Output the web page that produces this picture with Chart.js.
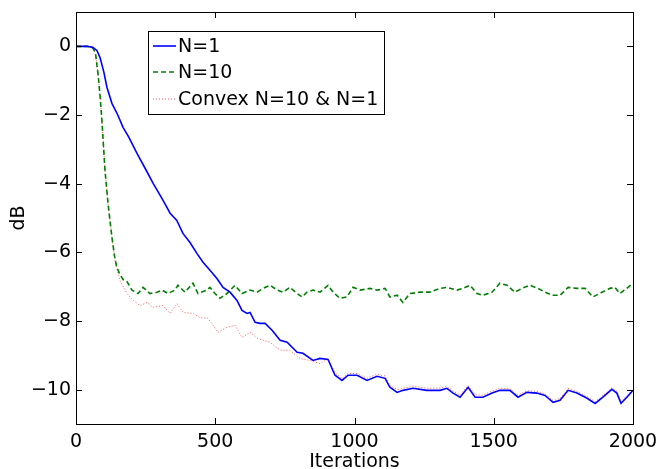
<!doctype html>
<html>
<head>
<title>dB vs Iterations</title>
<script src="https://cdn.jsdelivr.net/npm/chart.js@4.4.0/dist/chart.umd.min.js"></script>
<style>body{margin:0;background:#fff}</style>
</head>
<body>
<div style="width:659px;height:469px">
  <canvas id="joonis" width="659" height="469"></canvas>
</div>
<script>
// tick labels
const xTicks = [0, 500, 1000, 1500, 2000];
const yTicks = [-10, -8, -6, -4, -2, 0];
const seriesNames = ['N=1', 'N=10', 'Convex N=10 & N=1'];

// N=1 (blue)
const n1X = [0,40,60,75,86,100,111,129,150,169,190,219,250,277,310,338,362,384,410,434,456,481,506,528,553,578,596,614,625,643,661,679,704,733,758,794,815,851,876,905,930,955,977,1009,1045,1081,1110,1127,1153,1174,1210,1260,1307,1332,1354,1379,1408,1433,1461,1494,1522,1558,1587,1619,1655,1684,1713,1738,1767,1799,1835,1864,1892,1924,1942,1957,1978,2000];
const n1Y = [0,0,-0.03,-0.12,-0.32,-0.75,-1.19,-1.66,-2.0,-2.36,-2.65,-3.12,-3.58,-3.99,-4.45,-4.86,-5.07,-5.45,-5.72,-6.03,-6.29,-6.52,-6.76,-7.02,-7.16,-7.4,-7.69,-7.78,-7.75,-8.04,-8.07,-8.07,-8.27,-8.56,-8.62,-8.91,-8.94,-9.15,-9.09,-9.12,-9.58,-9.73,-9.58,-9.58,-9.73,-9.61,-9.67,-9.93,-10.08,-10.02,-9.96,-10.02,-10.02,-9.96,-10.1,-10.22,-9.93,-10.22,-10.22,-10.1,-10.02,-10.02,-10.22,-10.08,-10.1,-10.17,-10.37,-10.31,-10.02,-10.1,-10.25,-10.4,-10.22,-9.99,-10.1,-10.4,-10.22,-10.02];

// N=10 (green)
const n10X = [0,40,61,70,79,86,93,104,115,129,140,147,158,170,183,201,223,241,266,291,309,330,355,366,391,420,438,470,481,499,517,542,571,596,625,650,672,697,722,744,768,794,812,829,851,876,905,923,948,973,995,1020,1056,1081,1110,1127,1153,1174,1199,1235,1271,1307,1332,1368,1390,1415,1440,1461,1494,1522,1548,1576,1601,1630,1659,1684,1709,1738,1767,1799,1828,1856,1889,1917,1935,1953,1978,2000];
const n10Y = [0,0,-0.05,-0.2,-0.8,-1.4,-2.15,-3.6,-4.58,-5.56,-6.2,-6.44,-6.65,-6.8,-6.85,-7.1,-7.2,-7.02,-7.2,-7.16,-7.1,-7.2,-7.1,-6.96,-7.16,-6.9,-7.2,-7.1,-7.02,-7.2,-7.34,-7.2,-6.96,-7.2,-7.1,-7.16,-7.05,-6.96,-7.1,-7.16,-7.02,-7.2,-7.3,-7.16,-7.1,-7.16,-6.96,-7.16,-7.34,-7.3,-7.02,-7.1,-7.05,-7.1,-7.05,-7.3,-7.25,-7.46,-7.2,-7.16,-7.16,-7.05,-7.02,-7.1,-7.05,-6.96,-7.2,-7.25,-7.16,-6.9,-6.96,-7.16,-7.05,-6.96,-7.05,-7.16,-7.25,-7.25,-7.02,-7.05,-7.05,-7.3,-7.16,-7.05,-7.02,-7.2,-7.05,-6.9];

// Convex N=10 & N=1 (red dotted)
const cvxX = [0,40,61,70,79,86,93,104,115,129,140,158,183,205,230,255,276,312,338,363,384,420,445,474,510,542,571,596,625,650,672,697,733,768,804,840,876,905,930,955,977,1009,1045,1081,1110,1127,1153,1174,1210,1260,1307,1332,1354,1379,1408,1433,1461,1494,1522,1558,1587,1619,1655,1684,1713,1738,1767,1799,1835,1864,1892,1924,1942,1957,1978,2000];
const cvxY = [0,0,-0.05,-0.2,-0.8,-1.4,-2.15,-3.6,-4.58,-5.56,-6.25,-6.82,-7.2,-7.4,-7.55,-7.46,-7.6,-7.55,-7.78,-7.49,-7.75,-7.78,-7.9,-7.92,-8.33,-8.18,-8.13,-8.48,-8.33,-8.5,-8.56,-8.62,-8.85,-8.85,-9.09,-9.15,-9.24,-9.1,-9.5,-9.68,-9.53,-9.53,-9.67,-9.55,-9.6,-9.88,-10.0,-9.96,-9.9,-9.96,-9.95,-9.9,-10.04,-10.15,-9.88,-10.15,-10.16,-10.04,-9.96,-9.97,-10.16,-10.03,-10.05,-10.12,-10.32,-10.26,-9.97,-10.05,-10.2,-10.35,-10.17,-9.95,-10.05,-10.35,-10.17,-9.98];

const punktid = (xs, ys) => xs.map((x, i) => ({x: x, y: ys[i]}));
const font = {family: 'DejaVu Sans', size: 19};
const minus = v => String(v).replace('-', '\u2212');

// box, inward ticks and legend drawn on top (MATLAB look)
const raam = {
  id: 'raam',
  afterDraw(chart) {
    const c = chart.ctx, a = chart.chartArea;
    const sx = chart.scales.x, sy = chart.scales.y;
    c.save();
    c.strokeStyle = '#000';
    c.lineWidth = 1;
    c.strokeRect(a.left + 0.5, a.top + 0.5, a.right - a.left, a.bottom - a.top);
    c.beginPath();
    xTicks.forEach(v => {
      const px = Math.round(sx.getPixelForValue(v)) + 0.5;
      c.moveTo(px, a.bottom); c.lineTo(px, a.bottom - 6);
      c.moveTo(px, a.top); c.lineTo(px, a.top + 6);
    });
    yTicks.forEach(v => {
      const py = Math.round(sy.getPixelForValue(v)) + 0.5;
      c.moveTo(a.left, py); c.lineTo(a.left + 6, py);
      c.moveTo(a.right, py); c.lineTo(a.right - 6, py);
    });
    c.stroke();

    // legend
    const lx = 148.5, ly = 31.5, lw = 236, lh = 83;
    c.fillStyle = '#fff';
    c.fillRect(lx, ly, lw, lh);
    c.strokeRect(lx, ly, lw, lh);
    const rows = [46, 72, 99];
    c.font = '19px "DejaVu Sans"';
    c.textBaseline = 'middle';
    chart.data.datasets.forEach((ds, i) => {
      c.beginPath();
      c.strokeStyle = ds.borderColor;
      c.lineWidth = ds.borderWidth;
      c.setLineDash(ds.borderDash || []);
      c.moveTo(153, rows[i]); c.lineTo(176, rows[i]);
      c.stroke();
      c.setLineDash([]);
      c.fillStyle = '#000';
      c.fillText(ds.label, 178, rows[i] + 1);
    });
    c.restore();
  }
};

new Chart(document.getElementById('joonis'), {
  type: 'line',
  data: {
    datasets: [
      {label: seriesNames[0], data: punktid(n1X, n1Y), borderColor: 'rgb(0,0,255)', borderWidth: 1.6},
      {label: seriesNames[1], data: punktid(n10X, n10Y), borderColor: 'rgb(0,128,0)', borderWidth: 1.6, borderDash: [5, 3]},
      {label: seriesNames[2], data: punktid(cvxX, cvxY), borderColor: 'rgba(255,0,0,0.65)', borderWidth: 1, borderDash: [1, 2]}
    ]
  },
  options: {
    responsive: false,
    animation: false,
    elements: {point: {radius: 0}, line: {tension: 0}},
    layout: {padding: 0},
    plugins: {legend: {display: false}, tooltip: {enabled: false}},
    scales: {
      x: {
        type: 'linear', min: 0, max: 2000,
        afterBuildTicks: s => { s.ticks = xTicks.map(v => ({value: v})); },
        afterFit: s => { s.height = 45; s.paddingLeft = 0; s.paddingRight = 26; },
        grid: {display: false, drawTicks: false},
        border: {display: false},
        ticks: {font: font, color: '#000', padding: 7, maxRotation: 0, callback: v => minus(v)},
        title: {display: true, text: 'Iterations', font: font, color: '#000', padding: {top: 0, bottom: -4}}
      },
      y: {
        type: 'linear', min: -11, max: 1,
        afterBuildTicks: s => { s.ticks = yTicks.map(v => ({value: v})); },
        afterFit: s => { s.width = 76; s.paddingTop = 12; s.paddingBottom = 0; },
        grid: {display: false, drawTicks: false},
        border: {display: false},
        ticks: {font: font, color: '#000', padding: 5, callback: v => minus(v)},
        title: {display: true, text: 'dB', font: font, color: '#000', padding: {top: 8, bottom: 0}}
      }
    }
  },
  plugins: [raam]
});
</script>
</body>
</html>
